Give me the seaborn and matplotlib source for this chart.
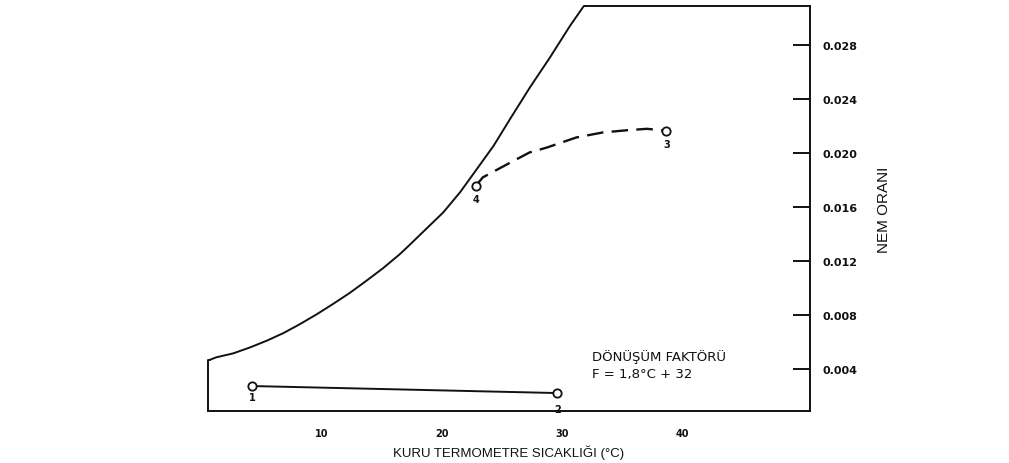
import numpy as np
import pandas as pd
import matplotlib
matplotlib.use("Agg")
import matplotlib.pyplot as plt
import seaborn as sns

# ---- data ----
sat_T = [0.67, 1.2, 2.6, 4.0, 5.4, 6.8, 8.17, 9.55, 10.9, 12.3, 13.7, 15.1, 16.5, 17.33,
         18.7, 20.1, 21.5, 22.9, 24.3, 25.67, 27.33, 29.0, 30.67, 31.8]
sat_w = [0.00469, 0.00487, 0.00516, 0.0056, 0.0061, 0.00667, 0.00733, 0.00805, 0.00881,
         0.00963, 0.01054, 0.01148, 0.01252, 0.01322, 0.0144, 0.0156, 0.01709, 0.01881,
         0.02054, 0.02252, 0.02487, 0.02709, 0.02943, 0.03087]

proc12_T = [4.17, 29.6]
proc12_w = [0.00274, 0.00222]

proc43_T = [22.83, 23.4, 25.7, 27.3, 28.7, 31.2, 33.4, 35.5, 37.1, 38.7]
proc43_w = [0.01758, 0.0182, 0.0193, 0.02005, 0.0204, 0.02116, 0.02153, 0.0217, 0.0218, 0.02165]

point_labels = ["1", "2", "3", "4"]
point_T = [4.17, 29.6, 38.7, 22.83]
point_w = [0.00274, 0.00222, 0.02165, 0.01758]

x_ticks = [10, 20, 30, 40]
x_ticklabels = ["10", "20", "30", "40"]
y_ticks = [0.004, 0.008, 0.012, 0.016, 0.020, 0.024, 0.028]
y_ticklabels = ["0.004", "0.008", "0.012", "0.016", "0.020", "0.024", "0.028"]

x_min, x_max = 0.5, 50.67
y_min, y_max = 0.00089, 0.0309

# ---- figure ----
sns.set_theme(style="white")
plt.rcParams["font.family"] = ["Liberation Sans", "DejaVu Sans"]

fig = plt.figure(figsize=(10.09, 4.64), dpi=100)
ax = fig.add_axes([208 / 1009, (464 - 412) / 464, 602 / 1009, 405 / 464])

sat = pd.DataFrame({"T": sat_T, "w": sat_w})
p12 = pd.DataFrame({"T": proc12_T, "w": proc12_w})
p43 = pd.DataFrame({"T": proc43_T, "w": proc43_w})

lc = "#111111"
sns.lineplot(data=sat, x="T", y="w", sort=False, color=lc, lw=1.4, ax=ax, clip_on=False)
sns.lineplot(data=p12, x="T", y="w", sort=False, color=lc, lw=1.4, ax=ax)
sns.lineplot(data=p43, x="T", y="w", sort=False, color=lc, lw=1.7, ax=ax,
             dashes=False, linestyle=(0, (7, 3.5)))
ax.plot(point_T, point_w, "o", ms=6, mfc="white", mec=lc, mew=1.3, ls="none", zorder=5)

# point labels (below each point)
offsets = {"1": -0.00081, "2": -0.00119, "3": -0.00096, "4": -0.00096}
for lab, t, w in zip(point_labels, point_T, point_w):
    ax.text(t, w + offsets[lab], lab, ha="center", va="center", fontsize=7,
            fontweight="bold", color=lc, family="DejaVu Sans")

# outline: left edge up to saturation curve, top edge from curve to right axis
ax.plot([x_min, x_min, sat_T[0]], [y_min, sat_w[0], sat_w[0]], color=lc, lw=1.4, clip_on=False)
ax.plot([sat_T[-1], x_max], [y_max, y_max], color=lc, lw=1.4, clip_on=False)

ax.set_xlim(x_min, x_max)
ax.set_ylim(y_min, y_max)
for s in ["left", "top"]:
    ax.spines[s].set_visible(False)
for s in ["bottom", "right"]:
    ax.spines[s].set_color(lc)
    ax.spines[s].set_linewidth(1.4)

ax.yaxis.tick_right()
ax.yaxis.set_label_position("right")
ax.set_yticks(y_ticks)
ax.set_yticklabels(y_ticklabels, fontsize=8, fontweight="bold", family="DejaVu Sans")
ax.set_xticks(x_ticks)
ax.set_xticklabels(x_ticklabels, fontsize=7, fontweight="bold", family="DejaVu Sans")
ax.tick_params(axis="y", direction="in", length=12, width=1.4, pad=9, color=lc, labelcolor=lc)
ax.tick_params(axis="x", direction="in", length=6, width=1.2, pad=12, color=lc, labelcolor=lc)

ax.set_xlabel("KURU TERMOMETRE SICAKLIĞI (°C)", fontsize=9.5, color=lc, labelpad=5)
ax.set_ylabel("NEM ORANI", fontsize=11, color=lc, rotation=90, labelpad=14)

ax.text(32.5, 0.00467, "DÖNÜŞÜM FAKTÖRÜ", ha="left", va="baseline",
        fontsize=9.5, color=lc, family="DejaVu Sans")
ax.text(32.5, 0.00338, "F = 1,8°C + 32", ha="left", va="baseline",
        fontsize=9.5, color=lc, family="DejaVu Sans")

ax.grid(False)
ax.set_facecolor("none")
fig.savefig("out.png", dpi=100, facecolor="white")
